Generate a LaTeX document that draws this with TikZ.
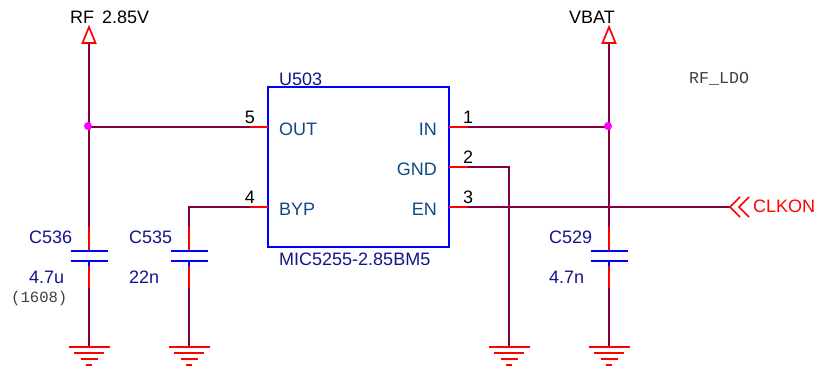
\documentclass[tikz,border=0pt]{standalone}
\usepackage{fontspec}
\setmainfont{Liberation Sans}
\newfontfamily\monofam{Liberation Mono}
\definecolor{wirecol}{HTML}{800040}
\definecolor{refcol}{HTML}{14148C}
\definecolor{pincol}{HTML}{0F4A85}
\definecolor{dotcol}{HTML}{FF00FF}
\begin{document}
\begin{tikzpicture}[
		x=1pt,y=-1pt
		,every node/.append style={inner sep=0pt, anchor=base west, font=\fontsize{18}{20}\selectfont}
		,wire/.style={draw=wirecol, line width=1.7pt}
		,pin/.style={draw=red, line width=1.7pt}
		,plate/.style={draw=blue, line width=1.7pt}
		,chip/.style={rectangle, draw=blue, line width=1.7pt, anchor=center, minimum width=181pt, minimum height=160pt}
		,ref/.style={text=refcol}
		,pinname/.style={text=pincol}
		,note/.style={text=black!75, font=\monofam\fontsize{#1}{18}\selectfont}
		,dot/.style={circle, fill=dotcol, minimum size=8pt, anchor=center}
		,gnd/.pic={
			\draw[pin] (-20.5,0) -- (20.5,0);
			\draw[pin] (-15,6) -- (15,6);
			\draw[pin] (-8.5,12) -- (8.5,12);
			\draw[pin] (-3,18) -- (3,18);
		}
		,cap/.pic={
			\draw[pin] (0,-24) -- (0,-1);
			\draw[plate] (0,-1) -- (0,0);
			\draw[plate] (-18.5,0) -- (18.5,0);
			\draw[plate] (-18.5,10) -- (18.5,10);
			\draw[plate] (0,10) -- (0,15);
			\draw[pin] (0,15) -- (0,37);
		}
		,power/.pic={
			\draw[draw=red, line width=1.7pt, fill=white] (0,-16) -- (6.5,0) -- (-6.5,0) -- cycle;
		}
		,chevron/.pic={
			\draw[pin] (10,-10) -- (0,0) -- (10,10);
			\draw[pin] (19,-10) -- (9,0) -- (19,10);
		}
	]
		\useasboundingbox (0,0) rectangle (821,370);

		% regulator
		\node [chip] (U503) at (358.5,167) {};
		\node [ref] (U503name) at (279,85) {U503};
		\node [ref] (U503part) at (279,265) {MIC5255-2.85BM5};
		\node [pinname] (OUT) at (279,135) {OUT};
		\node [pinname] (BYP) at (279,215) {BYP};
		\node [pinname, anchor=base east] (IN) at (437,135) {IN};
		\node [pinname, anchor=base east] (GND) at (437,175) {GND};
		\node [pinname, anchor=base east] (EN) at (437,215) {EN};

		% pin ends
		\coordinate (p5) at (268,127);
		\coordinate (p4) at (268,207);
		\coordinate (p1) at (449,127);
		\coordinate (p2) at (449,167);
		\coordinate (p3) at (449,207);
		\coordinate (w5) at (250,127);
		\coordinate (w4) at (250,207);
		\coordinate (w1) at (468,127);
		\coordinate (w2) at (468,167);
		\coordinate (w3) at (468,207);
		\node [anchor=base] (n5) at (250,123) {5};
		\node [anchor=base] (n4) at (250,203) {4};
		\node [anchor=base] (n1) at (468,123) {1};
		\node [anchor=base] (n2) at (468,163) {2};
		\node [anchor=base] (n3) at (468,203) {3};

		% nets
		\coordinate (RFtop) at (89,43);
		\coordinate (RFjoin) at (89,127);
		\coordinate (C536top) at (89,227);
		\coordinate (C536bot) at (89,288);
		\coordinate (G536) at (89,347);
		\coordinate (C535top) at (189,227);
		\coordinate (C535bot) at (189,288);
		\coordinate (G535) at (189,347);
		\coordinate (BATtop) at (609,43);
		\coordinate (BATjoin) at (609,127);
		\coordinate (C529top) at (609,227);
		\coordinate (C529bot) at (609,288);
		\coordinate (G529) at (609,347);
		\coordinate (G503) at (509,347);
		\coordinate (CLK) at (730,207);

		\draw [wire] (RFtop) -- (RFjoin) -- (C536top);
		\draw [wire] (RFjoin) -- (w5);
		\draw [wire] (C536bot) -- (G536);
		\draw [wire] (w4) -| (C535top);
		\draw [wire] (C535bot) -- (G535);
		\draw [wire] (BATtop) -- (BATjoin) -- (C529top);
		\draw [wire] (w1) -- (BATjoin);
		\draw [wire] (C529bot) -- (G529);
		\draw [wire] (w2) -| (G503);
		\draw [wire] (w3) -- (CLK);
		\draw [pin] (p5) -- (w5);
		\draw [pin] (p4) -- (w4);
		\draw [pin] (p1) -- (w1);
		\draw [pin] (p2) -- (w2);
		\draw [pin] (p3) -- (w3);

		\node [dot] (RFdot) at (88,126) {};
		\node [dot] (BATdot) at (608,126) {};

		% symbols
		\pic at (89,251) {cap};
		\pic at (189,251) {cap};
		\pic at (609,251) {cap};
		\pic at (G536) {gnd};
		\pic at (G535) {gnd};
		\pic at (G503) {gnd};
		\pic at (G529) {gnd};
		\pic at (RFtop) {power};
		\pic at (BATtop) {power};
		\pic at (CLK) {chevron};

		% labels
		\node (RFlabel) at (70,23) {RF\hspace{3pt} 2.85V};
		\node (BATlabel) at (569,23) {VBAT};
		\node [text=red] (CLKlabel) at (753,212) {CLKON};
		\node [note=16.6] (LDOlabel) at (689,83) {RF\_LDO};
		\node [ref] (C536name) at (29,243) {C536};
		\node [ref] (C536val) at (29,283) {4.7u};
		\node [note=15.6] (C536size) at (11,302) {(1608)};
		\node [ref] (C535name) at (129,243) {C535};
		\node [ref] (C535val) at (129,283) {22n};
		\node [ref] (C529name) at (549,243) {C529};
		\node [ref] (C529val) at (549,283) {4.7n};
	\end{tikzpicture}
\end{document}
